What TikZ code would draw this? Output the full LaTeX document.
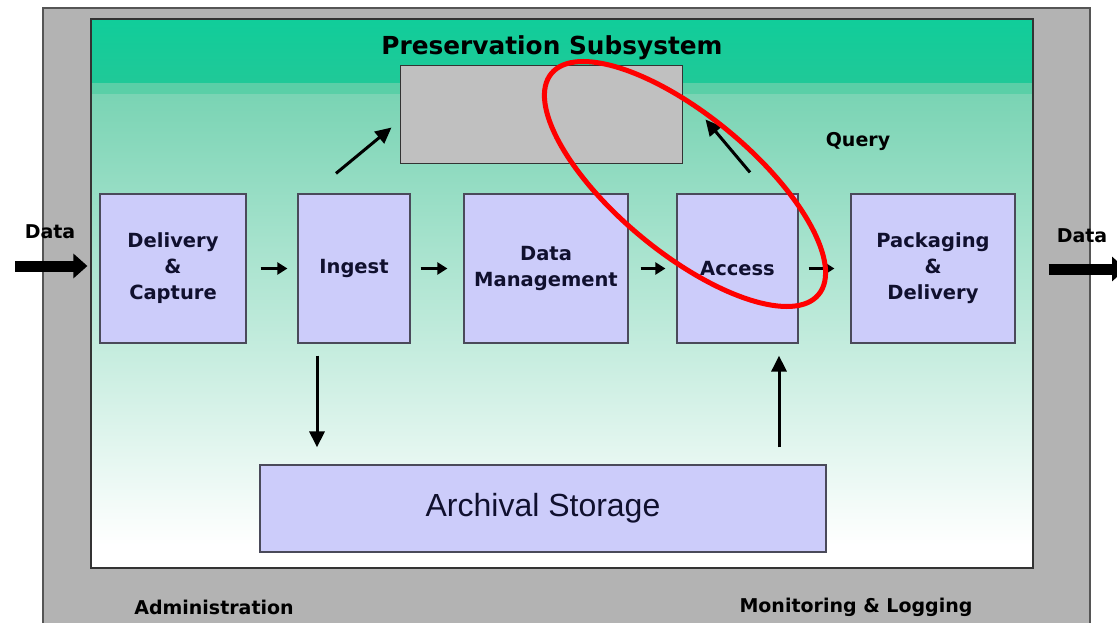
\documentclass[tikz,border=0pt]{standalone}
\usepackage{fontspec}
\setmainfont{DejaVu Sans}
\newfontfamily\arialf{Liberation Sans}
\usetikzlibrary{arrows.meta,calc}
\definecolor{outergray}{HTML}{B3B3B3}
\definecolor{outerline}{HTML}{555555}
\definecolor{innerline}{HTML}{333333}
\definecolor{tealtop}{HTML}{10CD9A}
\definecolor{tealtopb}{HTML}{20C998}
\definecolor{tealband}{HTML}{5ACFA7}
\definecolor{tealfade}{HTML}{7AD4B4}
\definecolor{lav}{HTML}{CCCCFA}
\definecolor{lavline}{HTML}{4A4A5A}
\definecolor{storegray}{HTML}{C0C0C0}
\definecolor{navy}{HTML}{10102E}
\begin{document}
\begin{tikzpicture}[x=1pt,y=-1pt,
  block/.style={draw=lavline, fill=lav, line width=1.2pt, inner sep=0pt, align=center,
    text=navy, font=\bfseries\fontsize{19.5}{26}\selectfont},
  lbl/.style={inner sep=0pt, text=black, font=\bfseries\fontsize{19}{24}\selectfont},
  smallarr/.style={line width=2.2pt, -{Triangle[length=10pt,width=12pt]}},
  bigarr/.style={line width=11pt, -{Triangle[length=14pt,width=24pt]}},
  midarr/.style={line width=3pt, -{Triangle[length=16pt,width=15pt]}}
]
\clip (0,0) rectangle (1117,623);
\fill[white] (0,0) rectangle (1117,623);
% outer administration frame
\draw[fill=outergray, draw=outerline, line width=1.5pt] (43,8) rectangle (1090,650);
% inner preservation subsystem panel
\shade[top color=tealtop, bottom color=tealtopb] (91,19) rectangle (1033,83);
\fill[tealband] (91,83) rectangle (1033,95);
\shade[top color=tealfade, bottom color=white] (91,95) rectangle (1033,545);
\fill[white] (91,545) rectangle (1033,568);
\draw[draw=innerline, line width=1.2pt] (91,19) rectangle (1033,568);

% title
\node[inner sep=0pt, text=black, font=\bfseries\fontsize{24.8}{30}\selectfont] (title) at (552,48) {Preservation Subsystem};

% store box
\node[draw=innerline, fill=storegray, line width=1pt, minimum width=282pt, minimum height=98pt, inner sep=0pt] (store) at (541,115) {};

% blocks
\node[block, minimum width=146pt, minimum height=149pt] (dc) at (173,268.5) {Delivery\\\&\\Capture};
\node[block, minimum width=112pt, minimum height=149pt] (ing) at (354,268.5) {Ingest};
\node[block, minimum width=164pt, minimum height=149pt] (dm) at (546,268.5) {Data\\Management};
\node[block, minimum width=121pt, minimum height=149pt] (acc) at (737.5,268.5) {Access};
\node[block, minimum width=164pt, minimum height=149pt] (pd) at (933,268.5) {Packaging\\\&\\Delivery};
\node[draw=lavline, fill=lav, line width=1.2pt, minimum width=566pt, minimum height=87pt, inner sep=0pt,
  text=navy, font=\arialf\fontsize{32}{36}\selectfont] (arch) at (543,508.5) {\raisebox{-2pt}{Archival Storage}};

% labels
\node[lbl] (datain) at (50,232) {Data};
\node[lbl] (dataout) at (1082,236) {Data};
\node[lbl] (query) at (858,141) {Query};
\node[lbl] (admin) at (214,607) {Administration};
\node[lbl] (monlog) at (856,607) {Monitoring \& Logging};

% external data arrows
\coordinate (srcin) at (15,266);
\coordinate (sinkout) at (1126,269);
\draw[bigarr] (srcin) -- ($(dc.west)+(-12,-2.5)$);
\draw[bigarr] ($(pd.east)+(33,0.5)$) -- (sinkout);

% flow arrows
\draw[smallarr] ($(dc.east)+(14,0)$) -- ($(ing.west)+(-10,0)$);
\draw[smallarr] ($(ing.east)+(10,0)$) -- ($(dm.west)+(-16,0)$);
\draw[smallarr] ($(dm.east)+(12,0)$) -- ($(acc.west)+(-11,0)$);
\draw[smallarr] ($(acc.east)+(10,0)$) -- ($(pd.west)+(-16,0)$);

% diagonal arrows
\draw[midarr] ($(ing.north)+(-18,-20)$) -- ($(store.south west)+(-8,-37)$);
\draw[midarr] ($(acc.north)+(12.5,-21)$) -- ($(store.south east)+(23,-45)$);

% vertical arrows
\draw[midarr] ($(ing.south)+(-37,12)$) -- ($(arch.north)+(-226,-17)$);
\draw[midarr] ($(arch.north)+(236,-17)$) -- ($(acc.south)+(41.5,12)$);

% red highlight ellipse
\draw[red, line width=5pt, rotate around={-39.6:(685,184)}] (685,184) ellipse [x radius=173.4pt, y radius=68.5pt];
\end{tikzpicture}
\end{document}
